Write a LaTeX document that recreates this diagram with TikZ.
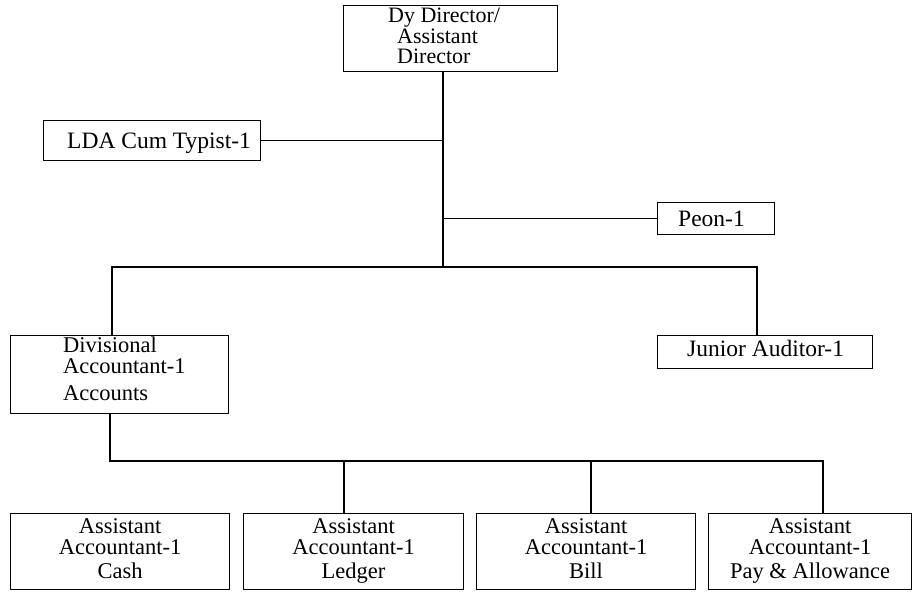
\documentclass[tikz,border=0pt]{standalone}
\usepackage{fontspec}
\setmainfont{Liberation Serif}
\begin{document}
\begin{tikzpicture}[x=1pt,y=-1pt,
  box/.style={draw, line width=1.1pt, anchor=north west, inner sep=0pt},
  conn/.style={line width=1.3pt},
  lbl/.style={anchor=base west, inner sep=0pt, font=\fontsize{23.5}{20}\selectfont},
  mlbl/.style={inner sep=0pt, font=\fontsize{23}{19}\selectfont}]
\useasboundingbox (0,0) rectangle (913,592);
% boxes
\node[box, minimum width=214pt, minimum height=66pt] (top) at (343,5) {};
\node[box, minimum width=217pt, minimum height=40pt] (lda) at (43,120) {};
\node[box, minimum width=117pt, minimum height=32pt] (peon) at (657,202) {};
\node[box, minimum width=218pt, minimum height=78pt] (div) at (10,335) {};
\node[box, minimum width=215pt, minimum height=33pt] (ja) at (657,335) {};
\node[box, minimum width=219pt, minimum height=76pt] (b1) at (10,513) {};
\node[box, minimum width=220pt, minimum height=76pt] (b2) at (243,513) {};
\node[box, minimum width=219pt, minimum height=76pt] (b3) at (476,513) {};
\node[box, minimum width=203pt, minimum height=76pt] (b4) at (708,513) {};
% labels
\node[mlbl, anchor=north west, align=left, font=\fontsize{22}{20.5}\selectfont] (tt) at (388,8)
  {Dy Director/\\\hspace*{9pt}Assistant\\\hspace*{9pt}Director};
\node[lbl] (l1) at (67,148) {LDA Cum Typist-1};
\node[lbl] (p1) at (678,226) {Peon-1};
\node[mlbl, anchor=north west, align=left, font=\fontsize{22.5}{21}\selectfont] (dt) at (63,337)
  {Divisional\\Accountant-1\\[6pt]Accounts};
\node[lbl] (j1) at (687,356) {Junior Auditor-1};
\foreach \b/\n in {b1/Cash, b2/Ledger, b3/Bill, b4/Pay \& Allowance}{
  \node[mlbl, anchor=north, align=center, font=\fontsize{22.5}{21}\selectfont] (\b t) at ([yshift=-5pt]\b.north)
    {Assistant\\Accountant-1\\[3pt]\n};
}
% junction coordinates
\coordinate (spine) at (443,267);
\coordinate (barL) at (112,267);
\coordinate (barR) at (757,267);
\coordinate (bL) at (110,461);
\coordinate (bR) at (823,461);
\coordinate (bm2) at (344,461);
\coordinate (bm3) at (591,461);
% connectors
\draw[conn] (top.south -| spine) -- (spine);
\draw[conn] (lda.east) -- (lda.east -| spine);
\draw[conn] (peon.west) -- (peon.west -| spine);
\draw[conn] (div.north -| barL) -- (barL) -- (barR) -- (ja.north -| barR);
\draw[conn] (div.south -| bL) -- (bL) -- (bR) -- (b4.north -| bR);
\draw[conn] (bm2) -- (b2.north -| bm2);
\draw[conn] (bm3) -- (b3.north -| bm3);
\end{tikzpicture}
\end{document}
